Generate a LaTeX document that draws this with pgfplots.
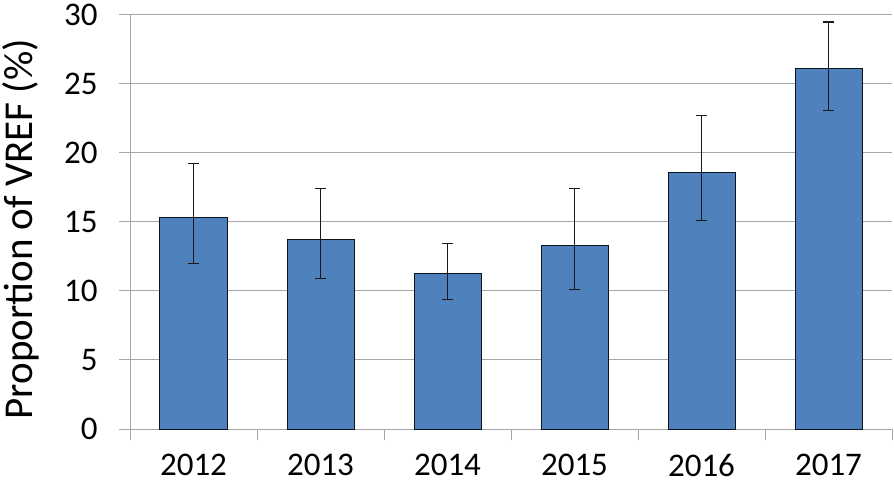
\documentclass[border=0pt]{standalone}
\usepackage{pgfplots}
\pgfplotsset{compat=1.18}
\usepackage{pgfplotstable}
\usepackage{fontspec}
\setmainfont{Carlito}
\definecolor{barblue}{HTML}{4F81BD}
\definecolor{gridgray}{HTML}{A6A6A6}
\pgfplotstableread{
x y ep em
0 15.33 3.93 3.33
1 13.76 3.67 2.85
2 11.27 2.20 1.88
3 13.28 4.13 3.19
4 18.57 4.13 3.49
5 26.13 3.36 3.03
}\vref
\begin{document}
\begin{tikzpicture}
\begin{axis}[
  at={(130bp,59bp)}, anchor=south west,
  scale only axis, width=762bp, height=414bp,
  xmin=-0.5, xmax=5.5, ymin=0, ymax=30,
  axis lines=left, axis line style={-, gridgray, line width=1bp},
  xtick={0,...,5}, xticklabels={2012,2013,2014,2015,2016,2017},
  minor xtick={-0.5,0.5,...,5.5},
  major x tick style={draw=none},
  minor x tick style={gridgray, line width=1bp},
  ytick={0,5,...,30},
  y tick style={gridgray, line width=1bp},
  tick align=outside, major tick length=11bp, minor tick length=11bp,
  ymajorgrids, grid style={gridgray, line width=1bp},
  /pgf/number format/assume math mode=true,
  tick label style={font=\fontsize{33bp}{39bp}\selectfont, black},
  xticklabel style={inner sep=0pt, text depth=0pt, yshift=-14bp},
  yticklabel style={xshift=-18bp},
  ylabel={Proportion of VREF (\%)},
  ylabel style={at={(axis description cs:-0.143,0.483)}, anchor=center, rotate=0, font=\fontsize{41bp}{48bp}\selectfont},
  clip=false,
]
\addplot[ybar, bar width=67bp, fill=barblue, draw=black!85!barblue, line width=1bp,
  error bars/.cd, y dir=both, y explicit,
  error bar style={black!90, line width=1.2bp},
  error mark options={rotate=90, mark size=5.5bp, line width=1.2bp, black!90}]
  table[x=x, y=y, y error plus=ep, y error minus=em] {\vref};
\end{axis}
\pgfresetboundingbox
\path[use as bounding box] (0,0) rectangle (894bp,488bp);
\end{tikzpicture}
\end{document}
